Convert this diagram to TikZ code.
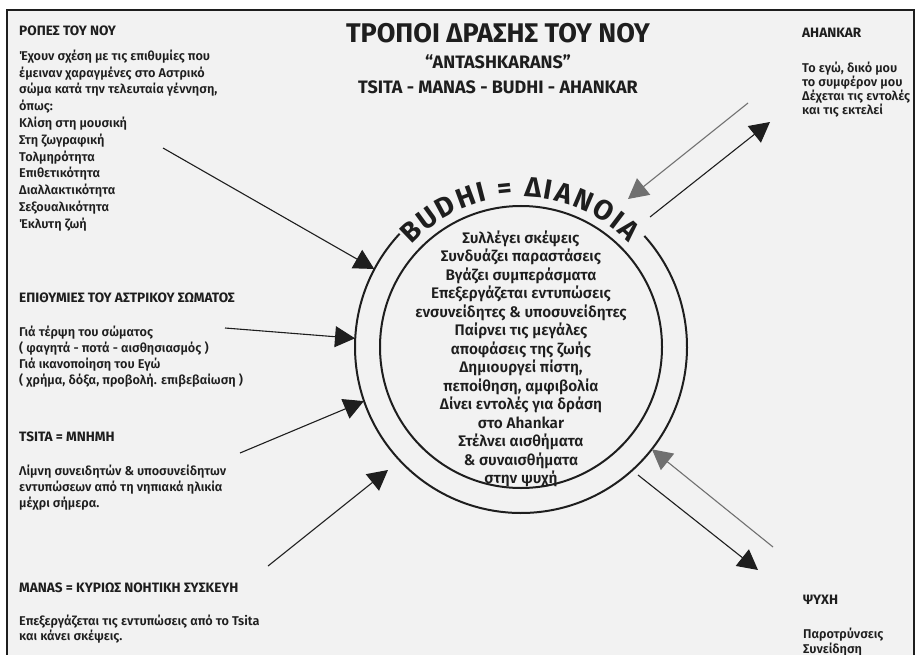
\documentclass[tikz,border=0pt]{standalone}
\usepackage{fontspec}
\setmainfont{Fira Sans}[UprightFont={* SemiBold}, BoldFont={* Bold}]
\usetikzlibrary{arrows.meta,decorations.text}

\definecolor{ink}{HTML}{1E1E1E}
\definecolor{paper}{HTML}{F2F2F2}
\definecolor{greyarrow}{HTML}{707070}

\tikzset{
  head/.style={font=\bfseries\fontsize{13.6}{15}\selectfont, anchor=west, inner sep=0pt, text=ink},
  body/.style={font=\fontsize{12.7}{#1}\selectfont, align=left, anchor=north west, inner sep=0pt, text=ink},
  body/.default=16.8,
  arr/.style={draw=ink, line width=1.1pt, -{Triangle[length=20pt,width=21pt,fill=ink]}},
  arrGrey/.style={draw=greyarrow, line width=1.1pt, -{Triangle[length=20pt,width=21pt,fill=greyarrow]}}
}

\begin{document}
\begin{tikzpicture}[x=1pt, y=1pt, yscale=-1]
    \useasboundingbox (0, 0) rectangle (918, 655);
    \clip (0, 0) rectangle (918, 655);
    % frame
    \draw [line width=2pt, draw=ink, fill=paper] (7, 10) rectangle (914, 690);
    % title
    \node [font=\bfseries\fontsize{27}{29}\selectfont, text=ink] (title) at (498, 33) {ΤΡΟΠΟΙ ΔΡΑΣΗΣ ΤΟΥ ΝΟΥ};
    \node [font=\bfseries\fontsize{18}{20}\selectfont, text=ink] (subtitle) at (498, 62) {“ANTASHKARANS”};
    \node [font=\bfseries\fontsize{18}{20}\selectfont, text=ink] (parts) at (498, 87) {TSITA - MANAS - BUDHI - AHANKAR};

    % left column
    \node [head] (ropes) at (19, 31) {ΡΟΠΕΣ ΤΟΥ ΝΟΥ};
    \node [body] (ropesText) at (19, 49.5) {Έχουν σχέση με τις επιθυμίες που\\ έμειναν χαραγμένες στο Αστρικό\\ σώμα κατά την τελευταία γέννηση,\\ όπως:\\ Κλίση στη μουσική\\ Στη ζωγραφική\\ Τολμηρότητα\\ Επιθετικότητα\\ Διαλλακτικότητα\\ Σεξουαλικότητα\\ Έκλυτη ζωή};
    \node [head] (epith) at (19, 298) {ΕΠΙΘΥΜΙΕΣ ΤΟΥ ΑΣΤΡΙΚΟΥ ΣΩΜΑΤΟΣ};
    \node [body=16] (epithText) at (19, 325.5) {Γιά τέρψη του σώματος\\ ( φαγητά - ποτά - αισθησιασμός )\\ Γιά ικανοποίηση του Εγώ\\ ( χρήμα, δόξα, προβολή. επιβεβαίωση )};
    \node [head] (tsita) at (19, 437) {TSITA = ΜΝΗΜΗ};
    \node [body=16] (tsitaText) at (19, 464.5) {Λίμνη συνειδητών \& υποσυνείδητων\\ εντυπώσεων από τη νηπιακά ηλικία\\ μέχρι σήμερα.};
    \node [head] (manas) at (19, 588) {MANAS = ΚΥΡΙΩΣ ΝΟΗΤΙΚΗ ΣΥΣΚΕΥΗ};
    \node [body=15.5] (manasText) at (19, 614.5) {Επεξεργάζεται τις εντυπώσεις από το Tsita\\ και κάνει σκέψεις.};

    % right column
    \node [head] (ahankar) at (802, 33) {AHANKAR};
    \node [body=14] (ahankarText) at (802, 61.5) {Το εγώ, δικό μου\\ το συμφέρον μου\\ Δέχεται τις εντολές\\ και τις εκτελεί};
    \node [head] (psyche) at (803, 600) {ΨΥΧΗ};
    \node [body=15] (psycheText) at (803, 627.5) {Παροτρύνσεις\\ Συνείδηση};

    % the two rings
    \coordinate (mind) at (521, 347);
    \node [circle, draw=ink, line width=2pt, minimum size=282pt, inner sep=0pt] (budhiIn) at (mind) {};
    \node [circle, minimum size=332pt, inner sep=0pt] (budhiOut) at (mind) {};
    \draw [draw=ink, line width=2pt] (mind) ++(-42:166) arc [start angle=-42, end angle=223, radius=166];
    % curved name
    \path [decorate, decoration={text along path, text align={fit to path}, text color=ink,
        text={|\bfseries\fontsize{28}{30}\selectfont|BUDHI = ΔΙΑΝΟΙΑ}}]
        (mind) ++(-137:150) arc [start angle=-137, end angle=-44, radius=150];
    % what budhi does
    \node [font=\fontsize{15.3}{18.5}\selectfont, align=center, anchor=north, inner sep=0pt, text=ink] (budhiText) at (521, 230.5) {Συλλέγει σκέψεις\\ Συνδυάζει παραστάσεις\\ Βγάζει συμπεράσματα\\ Επεξεργάζεται εντυπώσεις\\ ενσυνείδητες \& υποσυνείδητες\\ Παίρνει τις μεγάλες\\ αποφάσεις της ζωής\\ Δημιουργεί πίστη,\\ πεποίθηση, αμφιβολία\\ Δίνει εντολές για δράση\\ στο Ahankar\\ Στέλνει αισθήματα\\ \& συναισθήματα\\ στην ψυχή};

    % arrows into the ring
    \coordinate (ropesTail) at (163, 148);
    \coordinate (epithTail) at (225, 328);
    \coordinate (tsitaTail) at (240, 453);
    \coordinate (manasTail) at (268, 566);
    \coordinate (manasTip) at (388, 470);
    \draw [arr] (ropesTail) -- (budhiOut.152);
    \draw [arr] (epithTail) -- (budhiOut.177);
    \draw [arr] (tsitaTail) -- (budhiOut.199);
    \draw [arr] (manasTail) -- (manasTip);

    % ahankar pair
    \coordinate (ahankarOut) at (650, 217);
    \coordinate (ahankarTip) at (770, 122);
    \coordinate (ahankarBack) at (748, 103);
    \coordinate (ahankarIn) at (628, 199);
    \draw [arr] (ahankarOut) -- (ahankarTip);
    \draw [arrGrey] (ahankarBack) -- (ahankarIn);
    % psyche pair
    \coordinate (psycheOut) at (638, 475);
    \coordinate (psycheTip) at (758, 570);
    \coordinate (psycheBack) at (773, 547);
    \draw [arr] (psycheOut) -- (psycheTip);
    \draw [arrGrey] (psycheBack) -- (budhiOut.322);
\end{tikzpicture}
\end{document}
